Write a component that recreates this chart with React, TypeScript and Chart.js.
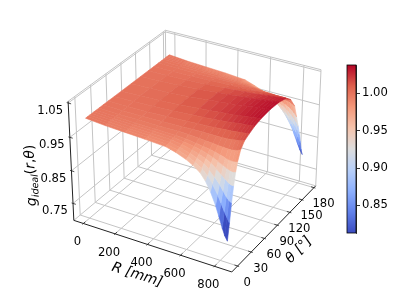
import React, { useEffect, useRef } from "react";
import { Chart, registerables } from "chart.js";

Chart.register(...registerables);

// ---- data ----
const rValues = [0, 120, 240, 360, 480, 540, 600, 640, 680, 710, 740, 770, 790, 810, 825, 840];
const thetaValues = [0, 4, 8, 12, 16, 20, 26, 34, 44, 56, 70, 90, 110, 126, 138, 148, 154, 159, 163, 166, 169, 172];
const gRows = [
  [1.0, 1.0, 1.0, 1.0, 1.0, 1.0, 1.0, 1.0, 1.0, 1.0, 1.0, 1.0, 1.0, 1.0, 1.0, 1.0, 1.0, 1.0, 1.0, 1.0, 1.0, 1.0],
  [0.995, 0.996, 0.996, 0.997, 0.997, 0.998, 0.998, 0.999, 1.0, 1.001, 1.002, 1.002, 1.002, 1.001, 1.0, 0.999, 0.998, 0.998, 0.997, 0.996, 0.996, 0.995],
  [0.992, 0.993, 0.993, 0.994, 0.995, 0.996, 0.998, 0.999, 1.001, 1.003, 1.004, 1.005, 1.005, 1.003, 1.001, 0.999, 0.998, 0.996, 0.995, 0.994, 0.993, 0.992],
  [0.989, 0.99, 0.991, 0.992, 0.994, 0.995, 0.997, 1.0, 1.003, 1.006, 1.008, 1.009, 1.009, 1.006, 1.003, 1.0, 0.997, 0.995, 0.993, 0.992, 0.99, 0.989],
  [0.985, 0.986, 0.988, 0.99, 0.992, 0.994, 0.998, 1.002, 1.006, 1.01, 1.013, 1.015, 1.015, 1.01, 1.005, 1.0, 0.996, 0.993, 0.99, 0.988, 0.986, 0.984],
  [0.977, 0.979, 0.982, 0.985, 0.988, 0.992, 0.997, 1.003, 1.008, 1.012, 1.015, 1.018, 1.017, 1.012, 1.006, 1.0, 0.995, 0.99, 0.985, 0.981, 0.977, 0.974],
  [0.965, 0.968, 0.973, 0.978, 0.983, 0.988, 0.995, 1.003, 1.009, 1.014, 1.018, 1.021, 1.02, 1.015, 1.007, 1.0, 0.992, 0.985, 0.977, 0.972, 0.967, 0.962],
  [0.954, 0.958, 0.965, 0.972, 0.979, 0.985, 0.993, 1.003, 1.01, 1.016, 1.02, 1.023, 1.022, 1.016, 1.008, 0.999, 0.989, 0.98, 0.97, 0.964, 0.957, 0.952],
  [0.939, 0.946, 0.955, 0.964, 0.973, 0.982, 0.992, 1.003, 1.012, 1.018, 1.022, 1.026, 1.024, 1.018, 1.009, 0.998, 0.985, 0.973, 0.961, 0.953, 0.945, 0.938],
  [0.92, 0.93, 0.943, 0.955, 0.967, 0.978, 0.99, 1.003, 1.013, 1.02, 1.024, 1.028, 1.026, 1.02, 1.01, 0.997, 0.981, 0.966, 0.951, 0.941, 0.931, 0.923],
  [0.893, 0.91, 0.927, 0.944, 0.96, 0.974, 0.989, 1.004, 1.014, 1.022, 1.026, 1.03, 1.028, 1.022, 1.011, 0.995, 0.976, 0.957, 0.939, 0.926, 0.914, 0.903],
  [0.857, 0.884, 0.909, 0.932, 0.953, 0.97, 0.988, 1.005, 1.016, 1.024, 1.028, 1.032, 1.03, 1.023, 1.011, 0.993, 0.97, 0.947, 0.925, 0.908, 0.892, 0.878],
  [0.827, 0.862, 0.893, 0.923, 0.948, 0.968, 0.988, 1.007, 1.017, 1.025, 1.03, 1.033, 1.031, 1.024, 1.011, 0.991, 0.965, 0.938, 0.913, 0.893, 0.873, 0.855],
  [0.796, 0.84, 0.878, 0.914, 0.944, 0.967, 0.99, 1.008, 1.018, 1.026, 1.031, 1.034, 1.032, 1.025, 1.011, 0.989, 0.958, 0.928, 0.9, 0.876, 0.852, 0.832],
  [0.775, 0.825, 0.87, 0.91, 0.943, 0.968, 0.992, 1.01, 1.019, 1.027, 1.032, 1.035, 1.033, 1.026, 1.01, 0.985, 0.95, 0.918, 0.888, 0.862, 0.835, 0.815],
  [0.762, 0.81, 0.865, 0.91, 0.945, 0.97, 0.996, 1.012, 1.02, 1.028, 1.033, 1.036, 1.034, 1.027, 1.01, 0.98, 0.94, 0.905, 0.875, 0.848, 0.82, 0.803],
];
const rTicks = [0, 200, 400, 600, 800];
const thetaTicks = [0, 30, 60, 90, 120, 150, 180];
const zTicks = [0.75, 0.85, 0.95, 1.05];
const colorbarTicks = [0.85, 0.9, 0.95, 1.0];
const colorMin = 0.813;
const colorMax = 1.038;
const coolwarmStops = [
  [59, 76, 192], [97, 129, 234], [141, 176, 254], [184, 208, 249], [221, 221, 221],
  [245, 196, 173], [244, 152, 122], [222, 96, 77], [180, 4, 38],
];

// ---- view ----
const rLim = [-61, 901];
const thetaLim = [-12.5, 184.5];
const zLim = [0.697, 1.055];
const box = [1.1905, 1.1905, 0.8929];
const U = [0.866, 0.5, 0];
const V = [-0.25, 0.433, 0.866];
const W = [0.433, -0.75, 0.5];
const SCALE = 1520;
const CX = 197;
const CY = 145.3;

const dot = (a: number[], b: number[]) => a[0] * b[0] + a[1] * b[1] + a[2] * b[2];
function toBox(r: number, t: number, z: number) {
  return [
    ((r - rLim[0]) / (rLim[1] - rLim[0]) - 0.5) * box[0],
    ((t - thetaLim[0]) / (thetaLim[1] - thetaLim[0]) - 0.5) * box[1],
    ((z - zLim[0]) / (zLim[1] - zLim[0]) - 0.5) * box[2],
  ];
}
function depthOf(r: number, t: number, z: number) {
  return 10 - dot(toBox(r, t, z), W);
}
function project(r: number, t: number, z: number) {
  const d = toBox(r, t, z);
  const w = 10 - dot(d, W);
  return { x: dot(d, U) / w, y: dot(d, V) / w };
}
function colorOf(v: number) {
  const f = Math.min(1, Math.max(0, (v - colorMin) / (colorMax - colorMin))) * (coolwarmStops.length - 1);
  const i = Math.min(coolwarmStops.length - 2, Math.floor(f));
  const k = f - i;
  const c = coolwarmStops[i].map((a, j) => Math.round(a + (coolwarmStops[i + 1][j] - a) * k));
  return `rgb(${c[0]},${c[1]},${c[2]})`;
}

function lineSet(pts: number[][], color: string, width: number) {
  return {
    data: pts.map((p) => project(p[0], p[1], p[2])),
    showLine: true,
    fill: false,
    borderColor: color,
    borderWidth: width,
    pointRadius: 0,
    tension: 0,
  };
}

function buildDatasets() {
  const faces: any[] = [];
  for (let i = 0; i < rValues.length - 1; i++) {
    for (let j = 0; j < thetaValues.length - 1; j++) {
      const cs = [
        [rValues[i], thetaValues[j], gRows[i][j]],
        [rValues[i + 1], thetaValues[j], gRows[i + 1][j]],
        [rValues[i + 1], thetaValues[j + 1], gRows[i + 1][j + 1]],
        [rValues[i], thetaValues[j + 1], gRows[i][j + 1]],
      ];
      const avg = cs.reduce((s, c) => s + c[2], 0) / 4;
      const depth = cs.reduce((s, c) => s + depthOf(c[0], c[1], c[2]), 0) / 4;
      const col = colorOf(avg);
      faces.push({
        depth,
        set: {
          data: [...cs, cs[0]].map((c) => project(c[0], c[1], c[2])),
          showLine: true,
          fill: "shape",
          backgroundColor: col,
          borderColor: col,
          borderWidth: 0.6,
          pointRadius: 0,
          tension: 0,
        },
      });
    }
  }
  faces.sort((a, b) => a.depth - b.depth);
  const [r0, r1] = rLim;
  const [t0, t1] = thetaLim;
  const [z0, z1] = zLim;
  const grey = "#c4c4c4";
  const black = "#222222";
  const backdrop: any[] = [];
  backdrop.push(lineSet([[r0, t0, z0], [r1, t0, z0]], black, 1));
  backdrop.push(lineSet([[r1, t0, z0], [r1, t1, z0]], black, 1));
  backdrop.push(lineSet([[r0, t0, z0], [r0, t0, z1]], black, 1));
  for (const r of rTicks) backdrop.push(lineSet([[r, t0 + 4, z0], [r, t0 - 2, z0]], black, 0.8));
  for (const t of thetaTicks) backdrop.push(lineSet([[r1 - 18, t, z0], [r1 + 9, t, z0]], black, 0.8));
  for (const z of zTicks) backdrop.push(lineSet([[r0 + 18, t0, z], [r0 - 9, t0, z]], black, 0.8));
  backdrop.push(lineSet([[r0, t0, z1], [r0, t1, z1], [r1, t1, z1]], grey, 1));
  backdrop.push(lineSet([[r0, t1, z0], [r0, t1, z1]], grey, 1));
  backdrop.push(lineSet([[r0, t0, z0], [r0, t1, z0], [r1, t1, z0]], grey, 1));
  backdrop.push(lineSet([[r1, t1, z0], [r1, t1, z1]], grey, 1));
  for (const r of rTicks) backdrop.push(lineSet([[r, t0, z0], [r, t1, z0], [r, t1, z1]], grey, 1));
  for (const t of thetaTicks) backdrop.push(lineSet([[r1, t, z0], [r0, t, z0], [r0, t, z1]], grey, 1));
  for (const z of zTicks) backdrop.push(lineSet([[r0, t0, z], [r0, t1, z], [r1, t1, z]], grey, 1));
  return [...faces.map((f) => f.set), ...backdrop].map((d, i) => ({ ...d, order: i }));
}

function drawRun(ctx: CanvasRenderingContext2D, parts: [string, string, number?][]) {
  let x = 0;
  for (const [text, font, dy] of parts) {
    ctx.font = font;
    ctx.fillText(text, x, dy || 0);
    x += ctx.measureText(text).width;
  }
}

const FAMILY = '"DejaVu Sans"';
const labelsPlugin = {
  id: "labels3d",
  afterDatasetsDraw(chart: any) {
    const { ctx, scales } = chart;
    const at = (r: number, t: number, z: number) => {
      const p = project(r, t, z);
      return [scales.x.getPixelForValue(p.x), scales.y.getPixelForValue(p.y)];
    };
    ctx.save();
    ctx.fillStyle = "#000";
    ctx.textAlign = "center";
    ctx.textBaseline = "middle";
    ctx.font = `11.6px ${FAMILY}`;
    for (const r of rTicks) {
      const [x, y] = at(r, thetaLim[0], zLim[0]);
      ctx.fillText(String(r), x - 6, y + 19);
    }
    for (const t of thetaTicks) {
      const [x, y] = at(rLim[1], t, zLim[0]);
      ctx.fillText(String(t), x + 9.5, y + 16.5);
    }
    for (const z of zTicks) {
      const [x, y] = at(rLim[0], thetaLim[0], z);
      ctx.fillText(z.toFixed(2), x - 18, y + 8);
    }
    ctx.save();
    ctx.translate(137, 275);
    ctx.rotate((17.7 * Math.PI) / 180);
    ctx.font = `italic 14px ${FAMILY}`;
    ctx.fillText("R [mm]", 0, 0);
    ctx.restore();

    ctx.save();
    ctx.translate(299, 250);
    ctx.rotate((-46 * Math.PI) / 180);
    ctx.font = `italic 14px ${FAMILY}`;
    ctx.fillText("θ [°]", 0, 0);
    ctx.restore();

    ctx.save();
    ctx.translate(36, 206);
    ctx.rotate((-92.4 * Math.PI) / 180);
    ctx.textAlign = "left";
    ctx.textBaseline = "alphabetic";
    const it = `italic 14px ${FAMILY}`;
    const up = `14px ${FAMILY}`;
    drawRun(ctx, [["g", it], ["ideal", `italic 9.5px ${FAMILY}`, 3], ["(", up], ["r", it], [",", up], ["θ", it], [")", up]]);
    ctx.restore();
    ctx.restore();
  },
};

export default function App() {
  const mainRef = useRef<HTMLCanvasElement>(null);
  const barRef = useRef<HTMLCanvasElement>(null);
  useEffect(() => {
    const main = new Chart(mainRef.current as HTMLCanvasElement, {
      type: "scatter",
      data: { datasets: buildDatasets() as any },
      options: {
        animation: false,
        responsive: false,
        layout: { padding: 0 },
        plugins: { legend: { display: false }, tooltip: { enabled: false } },
        scales: {
          x: { type: "linear", display: false, min: (0 - CX) / SCALE, max: (399 - CX) / SCALE },
          y: { type: "linear", display: false, min: (CY - 299) / SCALE, max: CY / SCALE },
        },
      },
      plugins: [labelsPlugin as any],
    });
    const bar = new Chart(barRef.current as HTMLCanvasElement, {
      type: "bar",
      data: {
        labels: ["g"],
        datasets: [
          {
            data: [[colorMin, colorMax]] as any,
            barPercentage: 1,
            categoryPercentage: 1,
            borderWidth: 0,
            backgroundColor: (c: any) => {
              const a = c.chart.chartArea;
              if (!a) return "#ddd";
              const g = c.chart.ctx.createLinearGradient(0, a.bottom, 0, a.top);
              coolwarmStops.forEach((s, i) =>
                g.addColorStop(i / (coolwarmStops.length - 1), `rgb(${s[0]},${s[1]},${s[2]})`)
              );
              return g;
            },
          },
        ],
      },
      options: {
        animation: false,
        responsive: false,
        layout: { padding: { left: 7, top: 10, bottom: 12, right: 0 } },
        plugins: { legend: { display: false }, tooltip: { enabled: false } },
        scales: {
          x: { display: false },
          y: {
            position: "right",
            min: colorMin,
            max: colorMax,
            afterBuildTicks: (axis: any) => {
              axis.ticks = colorbarTicks.map((value) => ({ value }));
            },
            afterFit: (axis: any) => {
              axis.width = 43;
            },
            grid: { drawOnChartArea: false, drawTicks: true, tickLength: 4, color: "#000", lineWidth: 0.8 },
            border: { display: true, color: "#000", width: 0.8 },
            ticks: {
              padding: 2,
              color: "#000",
              font: { family: "DejaVu Sans", size: 11.6 },
              callback: (v: any) => Number(v).toFixed(2),
            },
          },
        },
      },
      plugins: [
        {
          id: "frame",
          afterDraw(chart: any) {
            const { ctx, chartArea: a } = chart;
            ctx.save();
            ctx.strokeStyle = "#000";
            ctx.lineWidth = 0.8;
            ctx.strokeRect(a.left, a.top, a.right - a.left, a.bottom - a.top);
            ctx.restore();
          },
        } as any,
      ],
    });
    return () => {
      main.destroy();
      bar.destroy();
    };
  }, []);
  return (
    <div style={{ position: "fixed", left: 0, top: 0, width: 399, height: 299, background: "#fff" }}>
      <canvas ref={mainRef} width={399} height={299} style={{ position: "absolute", left: 0, top: 0, display: "block" }} />
      <canvas ref={barRef} width={59} height={190} style={{ position: "absolute", left: 340, top: 55, display: "block" }} />
    </div>
  );
}
